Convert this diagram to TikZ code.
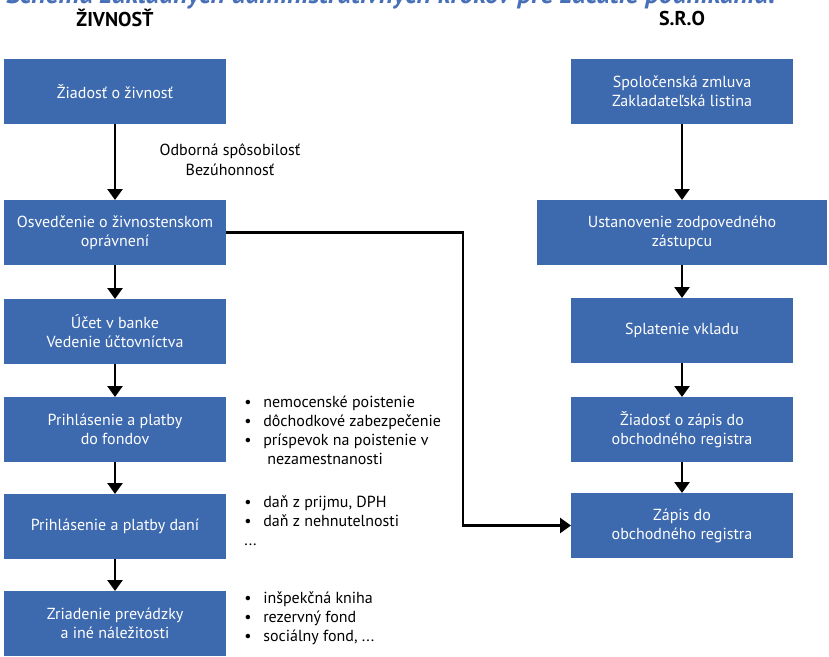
\documentclass[tikz,border=0pt]{standalone}
\usepackage{fontspec}
\setmainfont{PT Sans}
\usepackage{tikz}
\usetikzlibrary{%
  arrows.meta,%
  positioning% wg. " of "
}
\definecolor{krokblue}{RGB}{61,105,174}
\definecolor{titleblue}{RGB}{72,112,184}

\begin{document}
\begin{tikzpicture}[
    x=1pt,y=-1pt,
    >={Triangle[length=11pt,width=15pt]},
    line width=2.6pt,
    krok/.style={rectangle,fill=krokblue,text=white,align=center,
        minimum width=222pt,minimum height=65pt,inner sep=2pt,outer sep=0pt,
        font=\fontsize{16}{19}\selectfont},
    krokwide/.style={krok,minimum width=290pt},
    zoznam/.style={align=left,anchor=north west,inner sep=0pt,
        font=\fontsize{16}{19}\selectfont},
    hlavicka/.style={font=\bfseries\fontsize{20}{22}\selectfont},
    node distance=33pt
  ]
    \useasboundingbox (0,0) rectangle (829,656);

    \node [anchor=base west,text=titleblue,inner sep=0pt,
        font=\bfseries\itshape\fontsize{27.3}{30}\selectfont] (title) at (5,3)
        {Schéma základných administratívnych krokov pre začatie podnikania.};
    \node [hlavicka] (zivnost) at (115,18) {ŽIVNOSŤ};
    \node [hlavicka] (sro) at (682,18) {S.R.O};

    % zivnost
    \node [krok] (z1) at (115,91.5) {Žiadosť o živnosť};
    \node [krok,below=76pt of z1] (z2) {Osvedčenie o živnostenskom\\oprávnení};
    \node [krok,below=34pt of z2] (z3) {Účet v banke\\Vedenie účtovníctva};
    \node [krok,below=33pt of z3] (z4) {Prihlásenie a platby\\do fondov};
    \node [krok,below=32pt of z4] (z5) {Prihlásenie a platby daní};
    \node [krok,below=32pt of z5] (z6) {Zriadenie prevádzky\\a iné náležitosti};

    % s.r.o
    \node [krok] (s1) at (682,91.5) {Spoločenská zmluva\\Zakladateľská listina};
    \node [krokwide,below=76pt of s1] (s2) {Ustanovenie zodpovedného\\zástupcu};
    \node [krok,below=33pt of s2] (s3) {Splatenie vkladu};
    \node [krok,below=34pt of s3] (s4) {Žiadosť o zápis do\\obchodného registra};
    \node [krok,below=31pt of s4] (s5) {Zápis do\\obchodného registra};

    \node [align=center,inner sep=0pt,font=\fontsize{16}{20}\selectfont]
        (podmienky) at (230,160) {Odborná spôsobilosť\\Bezúhonnosť};

    \node [zoznam] (fondy) at (243,395)
        {\makebox[19pt][l]{•}nemocenské poistenie\\
         \makebox[19pt][l]{•}dôchodkové zabezpečenie\\
         \makebox[19pt][l]{•}príspevok na poistenie v\\
         \hspace*{23pt}nezamestnanosti};
    \node [zoznam] (dane) at (243,494)
        {\makebox[19pt][l]{•}daň z prijmu, DPH\\
         \makebox[19pt][l]{•}daň z nehnutelnosti\\
         ...};
    \node [zoznam] (ine) at (243,590)
        {\makebox[19pt][l]{•}inšpekčná kniha\\
         \makebox[19pt][l]{•}rezervný fond\\
         \makebox[19pt][l]{•}sociálny fond, ...};

    \begin{scope}[->]
        \foreach \a/\b in {z1/z2,z2/z3,z3/z4,z4/z5,z5/z6,s1/s2,s2/s3,s3/s4,s4/s5}
            \draw (\a) -- (\b);
        \draw (z2.east) -- ++(237pt,0) |- (s5.west);
    \end{scope}
\end{tikzpicture}
\end{document}
